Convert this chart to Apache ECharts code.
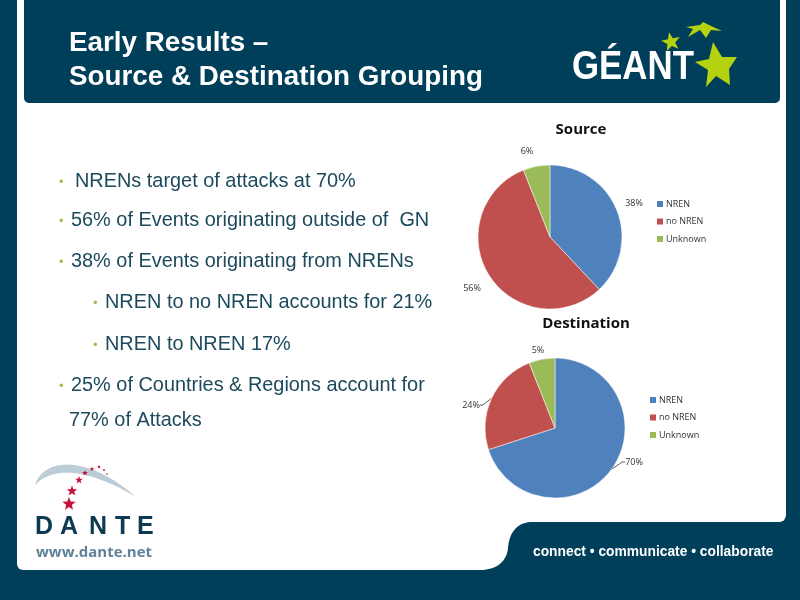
<!DOCTYPE html>
<html lang="en">
<head>
    <meta charset="UTF-8">
    <title>Early Results</title>
    <script src="https://cdn.jsdelivr.net/npm/echarts@6/dist/echarts.min.js"></script>
    <style>html,body{margin:0;padding:0;background:#003f5a;}</style>
</head>
<body>
    <div id="main" style="width:800px;height:600px;"></div>
    <script type="text/javascript">
        // values
        const categories = ['NREN', 'no NREN', 'Unknown'];
        const sourceValues = [38, 56, 6];
        const sourceLabels = ['38%', '56%', '6%'];
        const destinationValues = [70, 24, 6];
        const destinationLabels = ['70%', '24%', '5%'];
        const colors = ['#4f81bd', '#c0504d', '#9bbb59'];
        const navy = '#003f5a';

        const titleLines = ['Early Results –', 'Source & Destination Grouping'];
        const bullets = [
            ['•', 'NRENs target of attacks at 70%', 59, 75, 182],
            ['•', '56% of Events originating outside of  GN', 59, 71, 221],
            ['•', '38% of Events originating from NRENs', 59, 71, 262],
            ['•', 'NREN to no NREN accounts for 21%', 93, 105, 303],
            ['•', 'NREN to NREN 17%', 93, 105, 345],
            ['•', '25% of Countries & Regions account for', 59, 71, 386],
            ['', '77% of Attacks', 59, 69, 421]
        ];

        const body = '"Liberation Sans", Arial, sans-serif';
        const office = '"Open Sans", "Noto Sans", sans-serif';

        function txt(x, y, text, size, color, extra) {
            return {
                type: 'text', x: x, y: y, z: 5,
                style: Object.assign({ text: text, fontFamily: body, fontSize: size, fill: color, textVerticalAlign: 'middle' }, extra || {})
            };
        }
        // logo star, the graphic component has no star type so it is a polygon
        function star(cx, cy, r, color, rot) {
            let pts = [];
            for (let i = 0; i < 10; i++) {
                let a = (rot || 0) - Math.PI / 2 + i * Math.PI / 5;
                let d = i % 2 ? r * 0.42 : r;
                pts.push([cx + d * Math.cos(a), cy + d * Math.sin(a)]);
            }
            return { type: 'polygon', z: 5, shape: { points: pts }, style: { fill: color } };
        }
        // no path type in graphic either, so curves are sampled for polygons
        function bez(a, b, c, d) {
            let pts = [];
            for (let i = 0; i <= 20; i++) {
                let t = i / 20, u = 1 - t;
                pts.push([
                    u * u * u * a[0] + 3 * u * u * t * b[0] + 3 * u * t * t * c[0] + t * t * t * d[0],
                    u * u * u * a[1] + 3 * u * u * t * b[1] + 3 * u * t * t * c[1] + t * t * t * d[1]
                ]);
            }
            return pts;
        }

        const footerEdge = [[480, 570]]
            .concat(bez([480, 570], [498, 570], [507, 560], [508, 548]))
            .concat(bez([508, 548], [509, 532], [518, 522], [532, 522]))
            .concat([[780, 522], [784, 520.5], [786, 516], [786, 570]]);
        const swoosh = bez([35, 485], [44, 456], [90, 456], [136, 497])
            .concat(bez([136, 497], [92, 471], [55, 464], [35, 485]));
        const bigStar = [[713, 42], [722, 57], [737, 57], [729, 69], [730, 85], [716, 76], [706, 87], [708, 70], [695, 62], [709, 59]];
        const flatStar = [[686, 27], [700, 25], [703, 22], [709, 25], [722, 31], [711, 30], [706, 38], [700, 30], [688, 37], [693, 29]];
        const danteLetters = [['D', 35], ['A', 60], ['N', 89], ['T', 115], ['E', 137]];

        let decor = [
            // white panel, dark header, footer tab
            { type: 'rect', z: 1, shape: { x: 17, y: 0, width: 769, height: 570, r: [0, 0, 6, 6] }, style: { fill: '#fff' } },
            { type: 'rect', z: 2, shape: { x: 24, y: 0, width: 756, height: 103, r: [0, 0, 5, 5] }, style: { fill: navy } },
            { type: 'polygon', z: 2, shape: { points: footerEdge }, style: { fill: navy } },
            txt(69, 43, titleLines[0], 27.8, '#fff', { fontWeight: 'bold' }),
            txt(69, 77, titleLines[1], 27.8, '#fff', { fontWeight: 'bold' }),
            // GEANT logo
            Object.assign(txt(572, 68, 'GÉANT', 41, '#fff', { fontWeight: 'bold' }), { scaleX: 0.85 }),
            { type: 'polygon', z: 6, shape: { points: bigStar }, style: { fill: '#b5d211' } },
            star(671, 42, 10, '#b5d211', -0.2),
            { type: 'polygon', z: 6, shape: { points: flatStar }, style: { fill: '#b5d211' } },
            // DANTE logo
            { type: 'polygon', z: 5, shape: { points: swoosh }, style: { fill: '#bccdd8' } },
            star(69, 504, 7, '#c8103f'), star(72, 491, 5.5, '#c8103f'), star(79, 480, 4, '#c8103f'),
            star(85, 473, 3, '#c8103f'), star(92, 469, 2.4, '#c8103f'), star(99, 467, 2, '#c8103f'),
            star(104, 470, 1.5, '#c8103f'), star(107, 474, 1.2, '#c8103f'),
            txt(36, 553, 'www.dante.net', 15, '#5f8199', { fontFamily: office, fontWeight: 'bold' }),
            txt(533, 552, 'connect • communicate • collaborate', 13.8, '#fff', { fontWeight: 'bold' }),
            // chart headings
            txt(581, 130, 'Source', 15, '#111', { fontFamily: office, fontWeight: 'bold', textAlign: 'center' }),
            txt(586, 324, 'Destination', 15, '#111', { fontFamily: office, fontWeight: 'bold', textAlign: 'center' })
        ];
        danteLetters.forEach((l) => decor.push(txt(l[1], 527, l[0], 25, '#0d3a52', { fontWeight: 'bold' })));
        bullets.forEach((b) => {
            if (b[0]) decor.push(txt(b[2], b[4], b[0], 13, '#a9b95a'));
            decor.push(txt(b[3], b[4], b[1], 19.9, '#1c4a5c'));
        });

        function pie(values, labels, center, radius, labelSpots, lines) {
            return {
                type: 'pie', startAngle: 90, clockwise: true, center: center, radius: radius, z: 6,
                silent: true, animation: false,
                color: colors,
                itemStyle: { borderColor: '#fff', borderWidth: 0.5 },
                label: { fontFamily: office, fontSize: 9, color: '#333' },
                labelLayout: (p) => ({ x: labelSpots[p.dataIndex][0], y: labelSpots[p.dataIndex][1], align: 'center', verticalAlign: 'middle' }),
                data: categories.map((name, i) => ({
                    name: name,
                    value: values[i],
                    label: { formatter: labels[i] },
                    labelLine: { show: lines[i], length: 3, length2: 3, lineStyle: { color: '#333', width: 0.8 } }
                }))
            };
        }

        function legend(top, left) {
            return {
                orient: 'vertical', left: left, top: top, itemWidth: 8, itemHeight: 8, itemGap: 7.5,
                icon: 'rect', data: categories, selectedMode: false, padding: 0,
                textStyle: { fontFamily: office, fontSize: 9, color: '#333', padding: [0, 0, 0, -3] }
            };
        }

        let myChart = echarts.init(document.getElementById('main'));
        myChart.setOption({
            animation: false,
            backgroundColor: navy,
            graphic: decor,
            legend: [legend(199, 655), legend(395, 648)],
            series: [
                pie(sourceValues, sourceLabels, [550, 237], 72, [[634, 203], [472, 288], [527, 151]], [false, false, false]),
                pie(destinationValues, destinationLabels, [555, 428], 70, [[634, 462], [471, 405], [538, 350]], [true, true, false])
            ]
        });
    </script>
</body>
</html>
